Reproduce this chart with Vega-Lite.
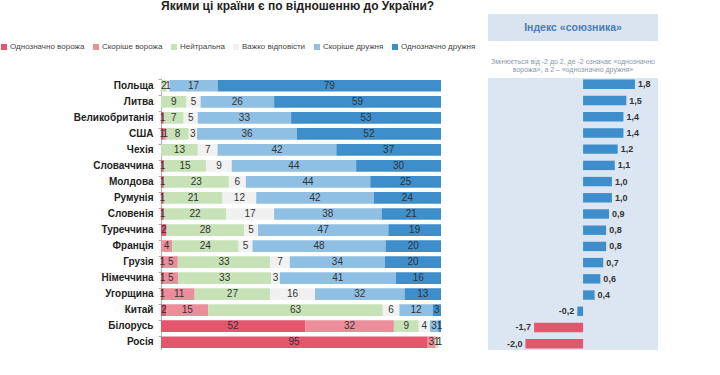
{
  "$schema": "https://vega.github.io/schema/vega-lite/v6.json",
  "padding": {"left": 0, "top": 0, "right": 0, "bottom": 0},
  "autosize": "pad",
  "background": "white",
  "title": {"text": "Якими ці країни є по відношенню до України?", "anchor": "start", "frame": "group", "fontSize": 12, "font": "Liberation Sans", "fontWeight": "bold", "color": "#222222", "offset": 1},
  "datasets": {
    "d": [
      {"country": "Польща", "Однозначно ворожа": 0, "Скоріше ворожа": 0, "Нейтральна": 2, "Важко відповісти": 1, "Скоріше дружня": 17, "Однозначно дружня": 79, "idx": 1.8},
      {"country": "Литва", "Однозначно ворожа": 0, "Скоріше ворожа": 0, "Нейтральна": 9, "Важко відповісти": 5, "Скоріше дружня": 26, "Однозначно дружня": 59, "idx": 1.5},
      {"country": "Великобританія", "Однозначно ворожа": 1, "Скоріше ворожа": 0, "Нейтральна": 7, "Важко відповісти": 5, "Скоріше дружня": 33, "Однозначно дружня": 53, "idx": 1.4},
      {"country": "США", "Однозначно ворожа": 1, "Скоріше ворожа": 1, "Нейтральна": 8, "Важко відповісти": 3, "Скоріше дружня": 36, "Однозначно дружня": 52, "idx": 1.4},
      {"country": "Чехія", "Однозначно ворожа": 0, "Скоріше ворожа": 0, "Нейтральна": 13, "Важко відповісти": 7, "Скоріше дружня": 42, "Однозначно дружня": 37, "idx": 1.2},
      {"country": "Словаччина", "Однозначно ворожа": 1, "Скоріше ворожа": 0, "Нейтральна": 15, "Важко відповісти": 9, "Скоріше дружня": 44, "Однозначно дружня": 30, "idx": 1.1},
      {"country": "Молдова", "Однозначно ворожа": 1, "Скоріше ворожа": 0, "Нейтральна": 23, "Важко відповісти": 6, "Скоріше дружня": 44, "Однозначно дружня": 25, "idx": 1.0},
      {"country": "Румунія", "Однозначно ворожа": 1, "Скоріше ворожа": 0, "Нейтральна": 21, "Важко відповісти": 12, "Скоріше дружня": 42, "Однозначно дружня": 24, "idx": 1.0},
      {"country": "Словенія", "Однозначно ворожа": 1, "Скоріше ворожа": 0, "Нейтральна": 22, "Важко відповісти": 17, "Скоріше дружня": 38, "Однозначно дружня": 21, "idx": 0.9},
      {"country": "Туреччина", "Однозначно ворожа": 2, "Скоріше ворожа": 0, "Нейтральна": 28, "Важко відповісти": 5, "Скоріше дружня": 47, "Однозначно дружня": 19, "idx": 0.8},
      {"country": "Франція", "Однозначно ворожа": 0, "Скоріше ворожа": 4, "Нейтральна": 24, "Важко відповісти": 5, "Скоріше дружня": 48, "Однозначно дружня": 20, "idx": 0.8},
      {"country": "Грузія", "Однозначно ворожа": 1, "Скоріше ворожа": 5, "Нейтральна": 33, "Важко відповісти": 7, "Скоріше дружня": 34, "Однозначно дружня": 20, "idx": 0.7},
      {"country": "Німеччина", "Однозначно ворожа": 1, "Скоріше ворожа": 5, "Нейтральна": 33, "Важко відповісти": 3, "Скоріше дружня": 41, "Однозначно дружня": 16, "idx": 0.6},
      {"country": "Угорщина", "Однозначно ворожа": 1, "Скоріше ворожа": 11, "Нейтральна": 27, "Важко відповісти": 16, "Скоріше дружня": 32, "Однозначно дружня": 13, "idx": 0.4},
      {"country": "Китай", "Однозначно ворожа": 2, "Скоріше ворожа": 15, "Нейтральна": 63, "Важко відповісти": 6, "Скоріше дружня": 12, "Однозначно дружня": 3, "idx": -0.2},
      {"country": "Білорусь", "Однозначно ворожа": 52, "Скоріше ворожа": 32, "Нейтральна": 9, "Важко відповісти": 4, "Скоріше дружня": 3, "Однозначно дружня": 1, "idx": -1.7},
      {"country": "Росія", "Однозначно ворожа": 95, "Скоріше ворожа": 3, "Нейтральна": 1, "Важко відповісти": 1, "Скоріше дружня": 0, "Однозначно дружня": 0, "idx": -2.0}
    ]
  },
  "columns": 2,
  "bounds": "flush",
  "spacing": {"row": 4, "column": 47},
  "concat": [
    {
      "width": 280, "height": 27,
      "data": {"values": [{"t": ""}]},
      "mark": {"type": "text"},
      "encoding": {"text": {"field": "t"}}
    },
    {
      "width": 170, "height": 27,
      "view": {"fill": "#dae4f0", "stroke": null},
      "data": {"values": [{"t": "Індекс «союзника»"}]},
      "mark": {"type": "text", "font": "Liberation Sans", "fontWeight": "bold", "fontSize": 10.5, "color": "#4a7bb5"},
      "encoding": {"text": {"field": "t"}}
    },
    {
      "width": 280, "height": 29,
      "data": {"values": [{"t": ""}]},
      "mark": {"type": "text"},
      "encoding": {"text": {"field": "t"}}
    },
    {
      "width": 170, "height": 29,
      "data": {"values": [{"t": "Змінюється від -2 до 2, де -2 означає «однозначно\nворожа», а 2 – «однозначно дружня»"}]},
      "mark": {"type": "text", "font": "Liberation Sans", "fontSize": 7, "color": "#8a98a8", "lineBreak": "\n", "lineHeight": 8, "baseline": "top", "dy": -2},
      "encoding": {"text": {"field": "t"}}
    },
    {
      "width": 280, "height": 272,
      "data": {"name": "d"},
      "transform": [
        {"fold": ["Однозначно ворожа", "Скоріше ворожа", "Нейтральна", "Важко відповісти", "Скоріше дружня", "Однозначно дружня"], "as": ["cat", "v"]},
        {"window": [{"op": "row_number", "as": "k"}], "groupby": ["country"]}
      ],
      "encoding": {
        "y": {
          "field": "country", "type": "nominal",
          "sort": ["Польща", "Литва", "Великобританія", "США", "Чехія", "Словаччина", "Молдова", "Румунія", "Словенія", "Туреччина", "Франція", "Грузія", "Німеччина", "Угорщина", "Китай", "Білорусь", "Росія"],
          "scale": {"paddingInner": 0.27, "paddingOuter": 0.12},
          "axis": {"title": null, "labelFont": "Liberation Sans", "labelFontSize": 10, "labelFontWeight": "bold", "labelColor": "#222222", "labelPadding": 5, "minExtent": 160, "maxExtent": 160, "domainColor": "#b0b0b0", "tickColor": "#b0b0b0", "tickSize": 3, "bandPosition": 0}
        },
        "x": {"field": "v", "type": "quantitative", "stack": "normalize", "axis": null},
        "order": {"field": "k", "sort": "ascending"}
      },
      "layer": [
        {
          "mark": {"type": "bar"},
          "encoding": {
            "color": {
              "field": "cat", "type": "nominal",
              "scale": {"domain": ["Однозначно ворожа", "Скоріше ворожа", "Нейтральна", "Важко відповісти", "Скоріше дружня", "Однозначно дружня"], "range": ["#e3566c", "#ec8d9a", "#c6e2b6", "#f1f1f1", "#8fbfe3", "#3d8ecb"]},
              "legend": {"orient": "none", "legendX": -161, "legendY": 29, "direction": "horizontal", "title": null, "symbolType": "square", "symbolSize": 36, "symbolStrokeWidth": 0, "labelFont": "Liberation Sans", "labelFontSize": 8, "labelColor": "#444444", "columnPadding": 7, "labelOffset": 2}
            }
          }
        },
        {
          "transform": [{"filter": "datum.v > 0"}],
          "mark": {"type": "text", "font": "Liberation Sans Narrow, Liberation Sans, sans-serif", "fontSize": 10, "color": "#333333"},
          "encoding": {
            "x": {"field": "v", "type": "quantitative", "stack": "normalize", "bandPosition": 0.5},
            "detail": {"field": "cat"},
            "text": {"field": "v", "type": "quantitative"}
          }
        }
      ]
    },
    {
      "width": 170, "height": 272,
      "view": {"fill": "#dce6f2", "stroke": null},
      "data": {"name": "d"},
      "encoding": {
        "y": {
          "field": "country", "type": "nominal",
          "sort": ["Польща", "Литва", "Великобританія", "США", "Чехія", "Словаччина", "Молдова", "Румунія", "Словенія", "Туреччина", "Франція", "Грузія", "Німеччина", "Угорщина", "Китай", "Білорусь", "Росія"],
          "scale": {"paddingInner": 0.42, "paddingOuter": 0.1},
          "axis": null
        },
        "x": {"field": "idx", "type": "quantitative", "scale": {"domain": [-3.3, 2.6], "nice": false, "zero": true}, "axis": null}
      },
      "layer": [
        {
          "mark": {"type": "bar"},
          "encoding": {
            "color": {"condition": {"test": "datum.idx <= -1", "value": "#e3566c"}, "value": "#3d8ecb"}
          }
        },
        {
          "transform": [{"filter": "datum.idx >= 0"}],
          "mark": {"type": "text", "align": "left", "dx": 3, "font": "Liberation Sans", "fontWeight": "bold", "fontSize": 9, "color": "#333333"},
          "encoding": {"text": {"field": "idx", "type": "quantitative", "format": ".1f"}}
        },
        {
          "transform": [{"filter": "datum.idx < 0"}],
          "mark": {"type": "text", "align": "right", "dx": -3, "font": "Liberation Sans", "fontWeight": "bold", "fontSize": 9, "color": "#333333"},
          "encoding": {"text": {"field": "idx", "type": "quantitative", "format": ".1f"}}
        }
      ]
    }
  ],
  "config": {
    "view": {"stroke": null},
    "locale": {"number": {"decimal": ",", "thousands": " ", "grouping": [3], "currency": ["", ""], "minus": "-"}}
  }
}
